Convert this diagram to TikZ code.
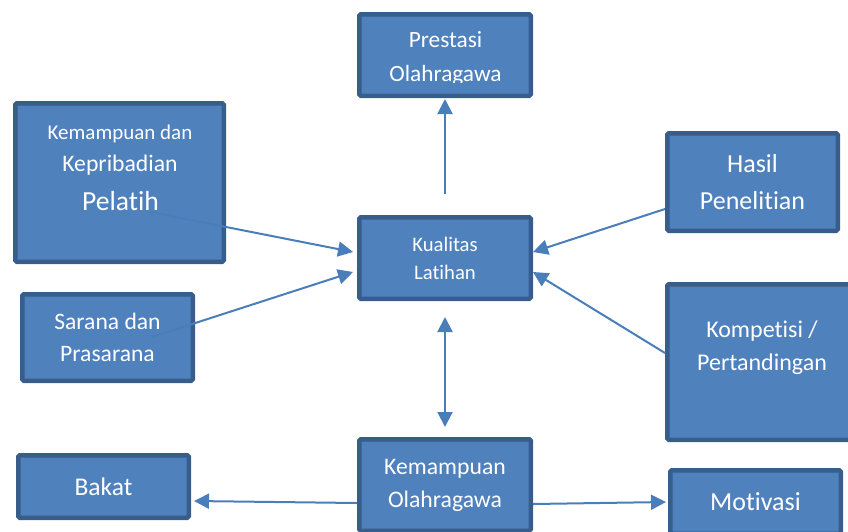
\documentclass[tikz,border=0pt]{standalone}
\usepackage{fontspec}
\setmainfont{Carlito}[Ligatures={NoCommon}]
\usepackage{tikz}
\usetikzlibrary{arrows.meta}
\usetikzlibrary{calc}

\definecolor{boxfill}{HTML}{4F81BD}
\definecolor{boxline}{HTML}{385D8A}
\definecolor{arrline}{HTML}{4A7EBB}

\newcommand{\fs}[2]{\fontsize{#1}{#2}\selectfont}

\tikzset{
  box/.style={rectangle, fill=boxfill, draw=boxline, line width=4.5pt, rounded corners=1.5pt, text=white, align=center, inner sep=0pt},
  txt/.style={text=white, align=center, inner sep=0pt},
  arr/.style={draw=arrline, line width=2pt, -{Triangle[length=15pt,width=15pt]}}
}

\begin{document}
\begin{tikzpicture}[x=1pt, y=-1pt]
                  \useasboundingbox (0,0) rectangle (848,531);
                  \clip (0,0) rectangle (848,531);

                  \node[box, minimum width=171.5pt, minimum height=81.5pt] (prestasi) at (445,55) {};
                  \node[box, minimum width=208.5pt, minimum height=158.5pt] (pelatih) at (119.5,182.5) {};
                  \node[box, minimum width=171.5pt, minimum height=81.5pt, font=\fs{20.7}{28}] (kualitas) at (445,258) {Kualitas\\Latihan};
                  \node[box, minimum width=170.5pt, minimum height=97.5pt, font=\fs{26}{37.5}] (hasil) at (752.5,182) {Hasil\\Penelitian};
                  \node[box, minimum width=170.5pt, minimum height=86.5pt, font=\fs{23.6}{32}] (sarana) at (107.5,337.5) {Sarana dan\\Prasarana};
                  \node[box, minimum width=189.5pt, minimum height=155.5pt] (kompetisi) at (762,362) {};
                  \node[box, minimum width=170.5pt, minimum height=62.5pt, font=\fs{25.5}{30}] (bakat) at (103.5,486.5) {Bakat};
                  \node[box, minimum width=171.5pt, minimum height=91.5pt, font=\fs{23.7}{33}] (kemolah) at (445,485) {Kemampuan\\Olahragawa};
                  \node[box, minimum width=170.5pt, minimum height=63.5pt, font=\fs{26}{31}] (motivasi) at (755.5,502) {Motivasi};

                  % text that does not sit in the middle of its box
                  \begin{scope}
                    \clip (357,12) rectangle (533,82.5);
                    \node[txt, font=\fs{23.3}{34}] (prestasi-t) at (445.5,58.4) {Prestasi\\Olahragawa};
                  \end{scope}
                  \node[txt, font=\fs{21}{25}, anchor=base] (pelatih-a) at (120,139.5) {Kemampuan dan};
                  \node[txt, font=\fs{23.7}{28}, anchor=base] (pelatih-b) at (120,171.5) {Kepribadian};
                  \node[txt, font=\fs{27.6}{33}, anchor=base] (pelatih-c) at (120.5,210) {Pelatih};
                  \node[txt, font=\fs{24}{33}] (kompetisi-t) at (762,348) {Kompetisi /\\Pertandingan};

                  \coordinate (pelatih-out) at (150,212);
                  \coordinate (sarana-out) at (152,337);

                  \draw[arr, shorten <=21pt, shorten >=1pt] (kualitas.north) -- (prestasi.south);
                  \draw[arr] (pelatih-out) -- ([shift={(-4,-6)}]kualitas.west);
                  \draw[arr] (sarana-out) -- ([shift={(-4,14)}]kualitas.west);
                  \draw[arr] ([shift={(0,27)}]hasil.west) -- ([shift={(0,-6)}]kualitas.east);
                  \draw[arr] ([shift={(0,-9)}]kompetisi.west) -- ([shift={(0,14)}]kualitas.east);
                  \draw[arr, {Triangle[length=15pt,width=15pt]}-{Triangle[length=15pt,width=15pt]}, shorten <=16pt, shorten >=10pt] (kualitas.south) -- (kemolah.north);
                  \draw[arr] ([shift={(0,18)}]kemolah.west) -- ([shift={(3,14.5)}]bakat.east);
                  \draw[arr] ([shift={(0,19)}]kemolah.east) -- ([shift={(-2,0)}]motivasi.west);
\end{tikzpicture}
\end{document}
